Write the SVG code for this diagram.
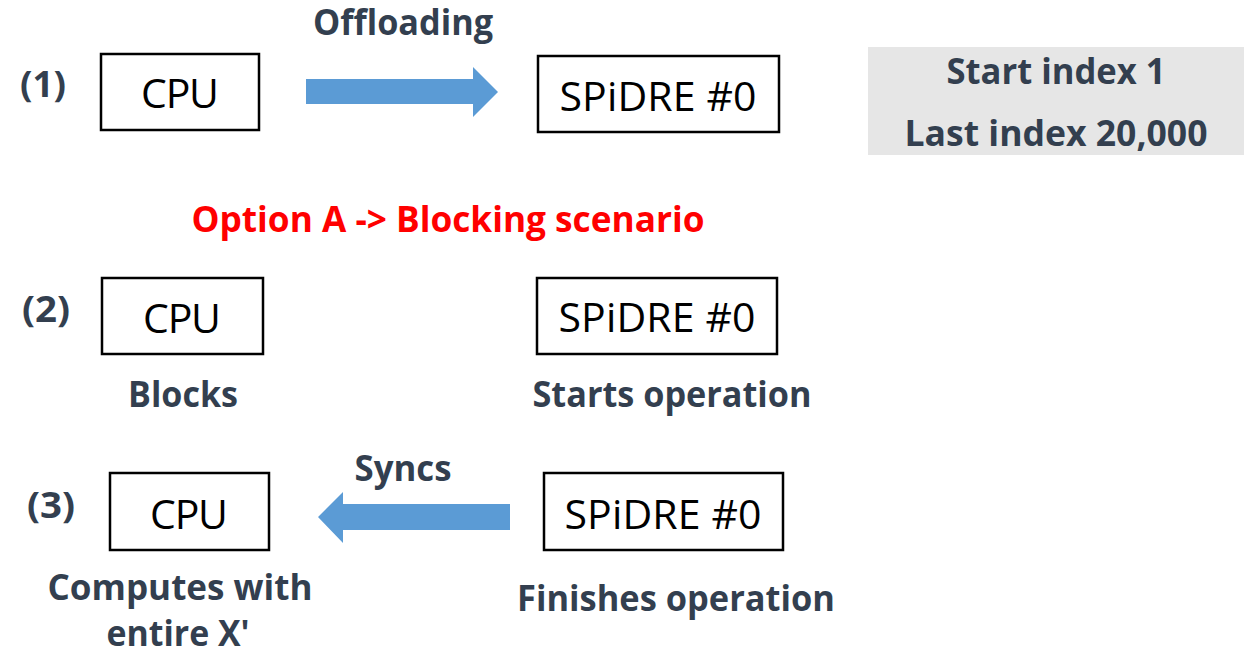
<svg xmlns="http://www.w3.org/2000/svg" width="1245" height="651" viewBox="0 0 1245 651">
  <style>
    .box { fill: #ffffff; stroke: #000000; stroke-width: 2.5; }
    .name { font-family: "Open Sans", "Liberation Sans", sans-serif; font-size: 41px; fill: #000000; text-anchor: middle; }
    .lbl { font-family: "Open Sans", "Liberation Sans", sans-serif; font-weight: bold; font-size: 36px; fill: #333f4f; text-anchor: middle; }
    .title { font-family: "Open Sans", "Liberation Sans", sans-serif; font-weight: bold; font-size: 36px; fill: #ff0000; text-anchor: middle; }
    .flow { fill: #5b9bd5; }
    .note { fill: #e6e6e6; }
  </style>

  <!-- step markers -->
  <g id="steps">
    <text class="lbl" x="43" y="97" textLength="46" lengthAdjust="spacingAndGlyphs">(1)</text>
    <text class="lbl" x="46" y="322" textLength="48" lengthAdjust="spacingAndGlyphs">(2)</text>
    <text class="lbl" x="51" y="518" textLength="48" lengthAdjust="spacingAndGlyphs">(3)</text>
  </g>

  <text class="title" x="448" y="232" textLength="513" lengthAdjust="spacingAndGlyphs">Option A -&gt; Blocking scenario</text>

  <!-- step 1 -->
  <g id="cpu1">
    <rect class="box" x="101" y="54" width="158" height="76"/>
    <text class="name" x="180" y="108" textLength="78">CPU</text>
  </g>
  <g id="spidre1">
    <rect class="box" x="538" y="56" width="241" height="76"/>
    <text class="name" x="658" y="111" textLength="197">SPiDRE #0</text>
  </g>
  <g id="range">
    <rect class="note" x="868" y="47" width="376" height="108"/>
    <text class="lbl" x="1056" y="84" textLength="219" lengthAdjust="spacingAndGlyphs">Start index 1</text>
    <text class="lbl" x="1056" y="146" textLength="303" lengthAdjust="spacingAndGlyphs">Last index 20,000</text>
  </g>

  <!-- step 2 -->
  <g id="cpu2">
    <rect class="box" x="102" y="278" width="161" height="76"/>
    <text class="name" x="182" y="333" textLength="78">CPU</text>
    <text class="lbl" x="183" y="407" textLength="110" lengthAdjust="spacingAndGlyphs">Blocks</text>
  </g>
  <g id="spidre2">
    <rect class="box" x="537" y="278" width="240" height="76"/>
    <text class="name" x="657" y="332" textLength="197">SPiDRE #0</text>
    <text class="lbl" x="672" y="407" textLength="279" lengthAdjust="spacingAndGlyphs">Starts operation</text>
  </g>

  <!-- step 3 -->
  <g id="cpu3">
    <rect class="box" x="110" y="473" width="159" height="77"/>
    <text class="name" x="189" y="529" textLength="78">CPU</text>
    <text class="lbl" x="180" y="600" textLength="265" lengthAdjust="spacingAndGlyphs">Computes with</text>
    <text class="lbl" x="178" y="646" textLength="143" lengthAdjust="spacingAndGlyphs">entire X'</text>
  </g>
  <g id="spidre3">
    <rect class="box" x="544" y="473" width="239" height="77"/>
    <text class="name" x="663" y="529" textLength="197">SPiDRE #0</text>
    <text class="lbl" x="676" y="611" textLength="318" lengthAdjust="spacingAndGlyphs">Finishes operation</text>
  </g>

  <!-- connectors -->
  <g id="connectors">
    <polygon class="flow" points="306,79 473,79 473,67 498,92 473,117 473,104 306,104"/>
    <text class="lbl" x="403" y="35" textLength="180" lengthAdjust="spacingAndGlyphs">Offloading</text>
    <polygon class="flow" points="510,504 343,504 343,492 318,517 343,543 343,530 510,530"/>
    <text class="lbl" x="403" y="481" textLength="97" lengthAdjust="spacingAndGlyphs">Syncs</text>
  </g>
</svg>
